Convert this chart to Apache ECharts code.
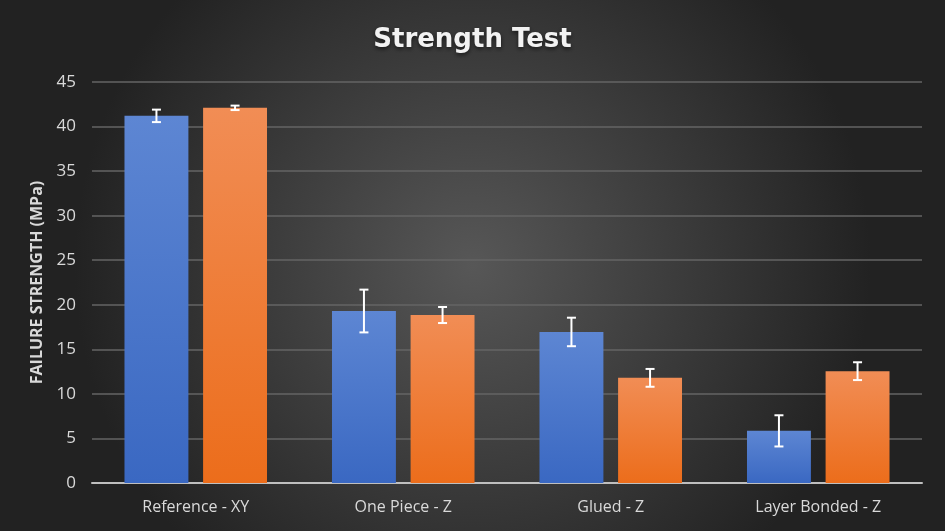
<!DOCTYPE html>
<html>
<head>
<meta charset="utf-8">
<script src="https://cdn.jsdelivr.net/npm/echarts@6/dist/echarts.min.js"></script>
<style>
  html, body { margin: 0; padding: 0; }
  #chart { width: 945px; height: 531px; }
</style>
</head>
<body>
<div id="chart"></div>
<script>
  // values
  var categories = ['Reference - XY', 'One Piece - Z', 'Glued - Z', 'Layer Bonded - Z'];
  var blueValues = [41.2, 19.3, 16.95, 5.85];
  var blueErrors = [0.7, 2.4, 1.6, 1.75];
  var orangeValues = [42.1, 18.85, 11.8, 12.55];
  var orangeErrors = [0.25, 0.9, 1.0, 1.0];

  var BAR_W = 0.308;   // share of category band
  var BAR_GAP = 0.23;  // share of bar width

  var chart = echarts.init(document.getElementById('chart'));

  function errorData(values, errs, side) {
    var out = [];
    for (var i = 0; i < values.length; i++) {
      out.push([i, values[i] - errs[i], values[i] + errs[i], side]);
    }
    return out;
  }

  function renderError(params, api) {
    var band = api.size([1, 0])[0];
    var shift = band * BAR_W * (1 + BAR_GAP) / 2 * api.value(3);
    var lo = api.coord([api.value(0), api.value(1)]);
    var hi = api.coord([api.value(0), api.value(2)]);
    var x = lo[0] + shift;
    var cap = 4.5;
    var style = { stroke: '#ffffff', lineWidth: 2 };
    return {
      type: 'group',
      children: [
        { type: 'line', shape: { x1: x, y1: lo[1], x2: x, y2: hi[1] }, style: style },
        { type: 'line', shape: { x1: x - cap, y1: lo[1], x2: x + cap, y2: lo[1] }, style: style },
        { type: 'line', shape: { x1: x - cap, y1: hi[1], x2: x + cap, y2: hi[1] }, style: style }
      ]
    };
  }

  function grad(top, bottom) {
    return new echarts.graphic.LinearGradient(0, 0, 0, 1, [
      { offset: 0, color: top },
      { offset: 1, color: bottom }
    ]);
  }

  var option = {
    backgroundColor: {
      type: 'radial', x: 0.5, y: 0.5, r: 0.75,
      colorStops: [
        { offset: 0, color: '#575757' },
        { offset: 1, color: '#222222' }
      ]
    },
    title: {
      text: 'Strength Test',
      left: 'center',
      top: 22,
      textStyle: {
        color: '#f2f2f2',
        fontFamily: 'DejaVu Sans',
        fontWeight: 'bold',
        fontSize: 26,
        textShadowColor: 'rgba(0,0,0,0.6)',
        textShadowBlur: 4,
        textShadowOffsetY: 2
      }
    },
    grid: { left: 92, right: 23, top: 82, bottom: 48 },
    xAxis: {
      type: 'category',
      data: categories,
      axisTick: { show: false },
      axisLine: { lineStyle: { color: '#bfbfbf', width: 2 } },
      axisLabel: {
        color: '#d9d9d9',
        fontFamily: 'Open Sans',
        fontSize: 16,
        margin: 16
      }
    },
    yAxis: {
      type: 'value',
      min: 0,
      max: 45,
      interval: 5,
      name: 'FAILURE STRENGTH (MPa)',
      nameLocation: 'middle',
      nameRotate: 90,
      nameGap: 44,
      nameTextStyle: {
        color: '#d9d9d9',
        fontFamily: 'Open Sans',
        fontWeight: 'bold',
        fontSize: 16
      },
      axisLabel: {
        color: '#d9d9d9',
        fontFamily: 'Open Sans',
        fontSize: 17,
        margin: 16
      },
      splitLine: { lineStyle: { color: '#646464', width: 1.5 } }
    },
    series: [
      {
        name: 'Blue',
        type: 'bar',
        data: blueValues,
        barWidth: (BAR_W * 100) + '%',
        barGap: (BAR_GAP * 100) + '%',
        itemStyle: {
          color: grad('#5d86d3', '#3a68c2'),
          shadowColor: 'rgba(0,0,0,0.45)',
          shadowBlur: 5
        }
      },
      {
        name: 'Orange',
        type: 'bar',
        data: orangeValues,
        barWidth: (BAR_W * 100) + '%',
        itemStyle: {
          color: grad('#f18d55', '#ec6d1b'),
          shadowColor: 'rgba(0,0,0,0.45)',
          shadowBlur: 5
        }
      },
      {
        type: 'custom',
        renderItem: renderError,
        data: errorData(blueValues, blueErrors, -1),
        z: 10
      },
      {
        type: 'custom',
        renderItem: renderError,
        data: errorData(orangeValues, orangeErrors, 1),
        z: 10
      }
    ]
  };

  chart.setOption(option);
</script>
</body>
</html>
